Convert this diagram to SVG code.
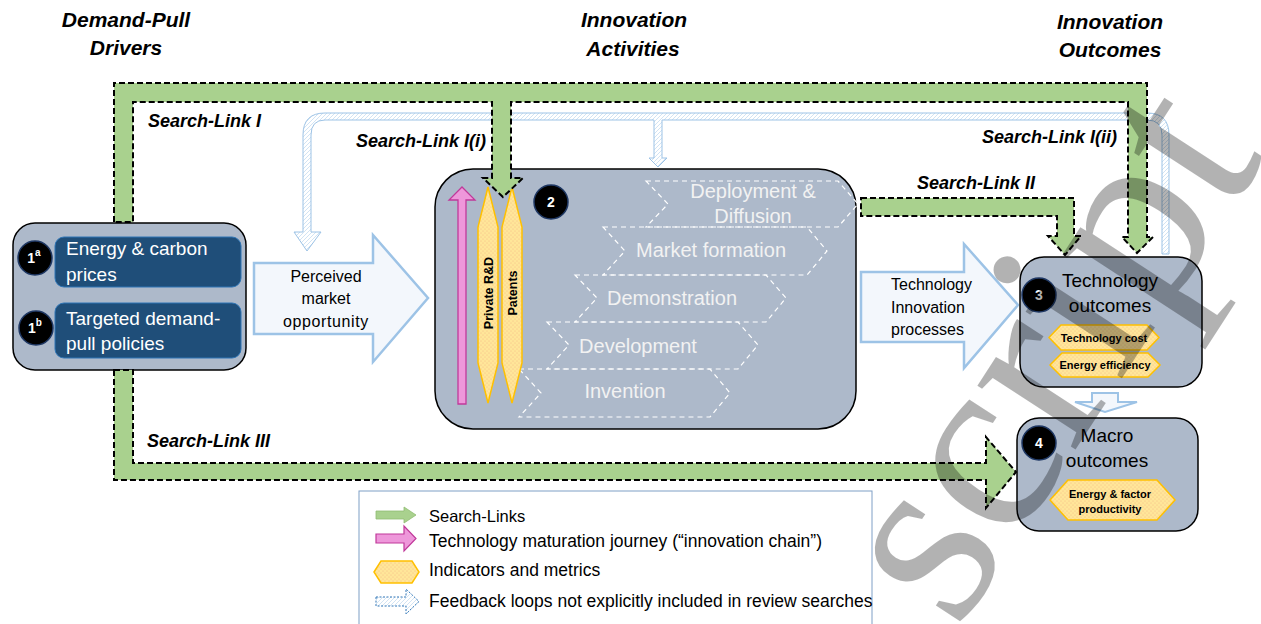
<svg xmlns="http://www.w3.org/2000/svg" width="1261" height="624" viewBox="0 0 1261 624">
<defs>
<pattern id="hatch" width="4" height="4" patternUnits="userSpaceOnUse">
<rect width="4" height="4" fill="#ffffff"/>
<path d="M-1,1 L1,-1 M0,4 L4,0 M3,5 L5,3" stroke="#bdd7ee" stroke-width="0.7"/>
</pattern>
<pattern id="dots" width="4" height="4" patternUnits="userSpaceOnUse">
<rect width="4" height="4" fill="#ffe699"/>
<circle cx="1" cy="1" r="0.5" fill="#f4b183"/>
<circle cx="3" cy="3" r="0.5" fill="#f4b183"/>
</pattern>
<style>
.hdr{font-family:"Liberation Sans",Arial,sans-serif;font-weight:bold;font-style:italic;font-size:21px;fill:#000;text-anchor:middle}
.sl{font-family:"Liberation Sans",Arial,sans-serif;font-weight:bold;font-style:italic;font-size:18px;fill:#000}
.t{font-family:"Liberation Sans",Arial,sans-serif;fill:#000}
.w{fill:#fff}
.node{fill:#adb9ca;stroke:#000;stroke-width:1.5}
.green{fill:#a9d18e;stroke:#000;stroke-width:2;stroke-dasharray:6 3}
.light{fill:#f3f7fc;stroke:#9dc3e6;stroke-width:2.5}
.fb{fill:url(#hatch);stroke:#9dc3e6;stroke-width:1}
.hex{fill:url(#dots);stroke:#ffc000;stroke-width:1.5}
.circ{fill:#000;stroke:#1f3864;stroke-width:1.5}
.num{font-family:"Liberation Sans",Arial,sans-serif;font-weight:bold;font-size:14px;fill:#fff;text-anchor:middle}
.chev{fill:none;stroke:#fff;stroke-width:1.2;stroke-dasharray:5 4}
.ct{font-family:"Liberation Sans",Arial,sans-serif;font-size:20px;fill:#f2f2f2;text-anchor:middle}
.bt{font-family:"Liberation Sans",Arial,sans-serif;font-weight:bold;font-size:11px;fill:#000;text-anchor:middle}
.lg{font-family:"Liberation Sans",Arial,sans-serif;font-size:17.5px;fill:#000}
</style>
</defs>
<rect width="1261" height="624" fill="#fff"/>

<g id="headers">
<text class="hdr" x="126" y="27">Demand-Pull</text>
<text class="hdr" x="126" y="55">Drivers</text>
<text class="hdr" x="634" y="27">Innovation</text>
<text class="hdr" x="633" y="56">Activities</text>
<text class="hdr" x="1110" y="29">Innovation</text>
<text class="hdr" x="1110" y="57">Outcomes</text>
</g>

<g id="node1">
<rect class="node" x="13" y="223" width="233" height="147" rx="22"/>
<rect x="55" y="237" width="186" height="50" rx="9" fill="#1f4e79" stroke="#2e75b6" stroke-width="1"/>
<rect x="55" y="303" width="186" height="55" rx="9" fill="#1f4e79" stroke="#2e75b6" stroke-width="1"/>
<circle class="circ" cx="35" cy="258" r="17"/>
<circle class="circ" cx="36" cy="328" r="17"/>
<text class="num" x="34" y="263">1<tspan font-size="10" dy="-7">a</tspan></text>
<text class="num" x="35" y="333">1<tspan font-size="10" dy="-7">b</tspan></text>
<text class="t w" x="66" y="255" font-size="19">Energy &amp; carbon</text>
<text class="t w" x="66" y="281" font-size="19">prices</text>
<text class="t w" x="66" y="325" font-size="19">Targeted demand-</text>
<text class="t w" x="66" y="350" font-size="19">pull policies</text>
</g>

<g id="node2">
<rect class="node" x="435" y="169" width="421" height="260" rx="38"/>
<polygon class="chev" points="646,181 838,181 858,204 838,227 646,227 668,204"/>
<polygon class="chev" points="603,227 807,227 827,251 807,275 603,275 625,251"/>
<polygon class="chev" points="575,275 766,275 786,298 766,322 575,322 597,298"/>
<polygon class="chev" points="547,322 738,322 758,345 738,369 547,369 569,345"/>
<polygon class="chev" points="519,369 710,369 730,393 710,417 519,417 541,393"/>
<text class="ct" x="753" y="198">Deployment &amp;</text>
<text class="ct" x="753" y="223">Diffusion</text>
<text class="ct" x="711" y="257">Market formation</text>
<text class="ct" x="672" y="305">Demonstration</text>
<text class="ct" x="638" y="353">Development</text>
<text class="ct" x="625" y="398">Invention</text>
<path d="M458,404 L458,200 L449,200 L462,187 L475,200 L466,200 L466,404 Z" fill="#ee97da" stroke="#c0399a" stroke-width="1.3"/>
<polygon class="hex" points="488,187 498,227 498,363 488,403 478,363 478,227"/>
<polygon class="hex" points="512,187 522,227 522,363 512,403 502,363 502,227"/>
<text class="bt" style="font-size:12.5px" transform="translate(493,293) rotate(-90)">Private R&amp;D</text>
<text class="bt" style="font-size:12.5px" transform="translate(517,293) rotate(-90)">Patents</text>
<circle class="circ" cx="551" cy="202" r="17"/>
<text class="num" x="551" y="207">2</text>
</g>

<g id="arrow-perceived">
<path class="light" d="M254,263 L373,263 L373,235 L428,298 L373,362 L373,334 L254,334 Z"/>
<text class="t" x="326" y="282" font-size="16" text-anchor="middle">Perceived</text>
<text class="t" x="326" y="304" font-size="16" text-anchor="middle">market</text>
<text class="t" x="326" y="327" font-size="16" text-anchor="middle" letter-spacing="0.6">opportunity</text>
</g>

<g id="arrow-tip">
<path class="light" d="M861,272 L964,272 L964,244 L1018,305 L964,368 L964,342 L861,342 Z"/>
<text class="t" x="891" y="290" font-size="16">Technology</text>
<text class="t" x="891" y="313" font-size="16">Innovation</text>
<text class="t" x="891" y="335" font-size="16">processes</text>
</g>

<g id="node3">
<rect class="node" x="1020" y="257" width="182" height="130" rx="24"/>
<circle class="circ" cx="1039" cy="295" r="17"/>
<text class="num" x="1039" y="300">3</text>
<text class="t" x="1110" y="287" font-size="19" text-anchor="middle">Technology</text>
<text class="t" x="1110" y="312" font-size="19" text-anchor="middle">outcomes</text>
<polygon class="hex" points="1049,337.5 1061,325 1147,325 1159,337.5 1147,350 1061,350"/>
<text class="bt" x="1104" y="341.5">Technology cost</text>
<polygon class="hex" points="1050,365 1062,353 1148,353 1160,365 1148,377 1062,377"/>
<text class="bt" x="1105" y="369">Energy efficiency</text>
</g>

<g id="node4">
<rect class="node" x="1017" y="418" width="181" height="113" rx="22"/>
<circle class="circ" cx="1039" cy="443" r="17"/>
<text class="num" x="1039" y="448">4</text>
<text class="t" x="1107" y="442" font-size="19" text-anchor="middle">Macro</text>
<text class="t" x="1107" y="467" font-size="19" text-anchor="middle">outcomes</text>
<polygon class="hex" points="1050,500 1068,480 1157,480 1175,500 1157,520 1068,520"/>
<text class="bt" x="1110" y="498">Energy &amp; factor</text>
<text class="bt" x="1110" y="513">productivity</text>
</g>

<g id="connectors">
<path class="fb" d="M307,251 L294,232 L303,232 L303,135 Q303,113 325,113 L1147,113 Q1169,113 1169,135 L1169,254 L1162,254 L1162,135 Q1162,120 1147,120 L662,120 L662,158 L667,158 L658,167 L649,158 L654,158 L654,120 L325,120 Q311,120 311,135 L311,232 L321,232 Z"/>
<path class="green" d="M114,222 L114,83 L1147,83 L1147,237 L1153,237 L1137,253 L1122,237 L1128,237 L1128,102 L511,102 L511,178 L523,178 L503,197 L483,178 L492,178 L492,102 L133,102 L133,222 Z"/>
<path class="green" d="M861,198 L1074,198 L1074,236 L1081,236 L1065,255 L1048,236 L1057,236 L1057,216 L861,216 Z"/>
<path class="green" d="M114,370 L133,370 L133,463 L986,463 L986,437 L1016,472 L986,508 L986,480 L114,480 Z"/>
<path class="light" d="M1092,393 L1118,393 L1118,402 L1137,402 L1105,412 L1075,402 L1092,402 Z" style="stroke-width:2"/>
<text class="sl" x="148" y="127">Search-Link I</text>
<text class="sl" x="486" y="147" text-anchor="end">Search-Link I(i)</text>
<text class="sl" x="1117" y="143" text-anchor="end">Search-Link I(ii)</text>
<text class="sl" x="917" y="189">Search-Link II</text>
<text class="sl" x="147" y="447">Search-Link III</text>
</g>

<g id="legend">
<rect x="359" y="491" width="513" height="150" fill="#fff" stroke="#7f9fc6" stroke-width="1"/>
<path d="M376,511 L404,511 L404,507 L416,515 L404,523 L404,519 L376,519 Z" fill="#a9d18e" stroke="#8fbc72" stroke-width="0.8"/>
<text class="lg" x="429" y="522" style="font-size:16.5px">Search-Links</text>
<path d="M376,534 L404,534 L404,526 L416,538.5 L404,551 L404,543 L376,543 Z" fill="#ee97da" stroke="#c0399a" stroke-width="1.2"/>
<text class="lg" x="429" y="547">Technology maturation journey (“innovation chain”)</text>
<polygon class="hex" points="374,572 381,561 412,561 419,572 412,583 381,583"/>
<text class="lg" x="429" y="576">Indicators and metrics</text>
<path d="M376,597 L406,597 L406,589 L419,601.5 L406,614 L406,606 L376,606 Z" fill="url(#hatch)" stroke="#2e75b6" stroke-width="1" stroke-dasharray="2 1.5"/>
<text class="lg" x="429" y="607">Feedback loops not explicitly included in review searches</text>
</g>

<text x="957" y="632" transform="rotate(-57 957 632)" font-family="Liberation Serif, Times New Roman, serif" font-size="255" fill="#000" fill-opacity="0.3">script</text>
</svg>
